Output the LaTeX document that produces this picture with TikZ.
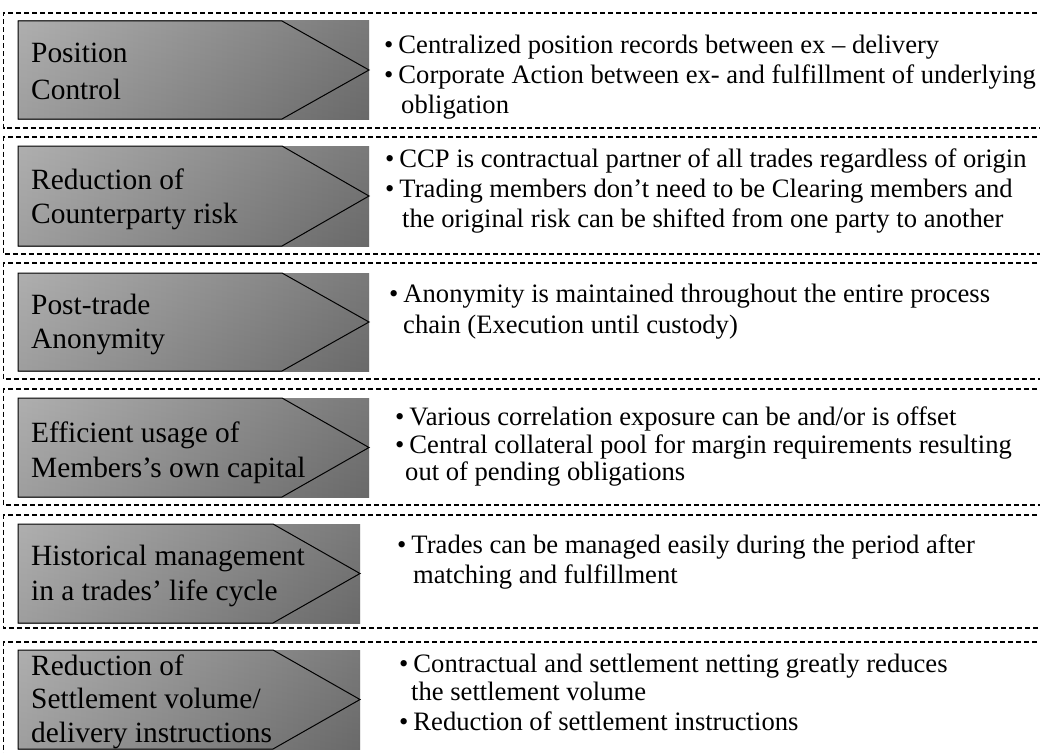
\documentclass[tikz,border=0pt]{standalone}
\usepackage{fontspec}
\setmainfont{Liberation Serif}
\definecolor{gl}{HTML}{BDBDBD}
\definecolor{gr}{HTML}{7E7E7E}
\newcommand\chevrow[5]{%
  \shade[left color=gl, right color=gr] (18,#2) rectangle (#5,#3);
  \shade[top color=black!60, middle color=white, bottom color=black, fill opacity=0.16] (18,#2) rectangle (#5,#3);
  \draw[chev] (18,#2) -- (#4,#2) -- (#5,{(#2+#3)/2}) coordinate (#1) -- (#4,#3) -- (18,#3) -- cycle;
}
\begin{document}
\begin{tikzpicture}[x=1pt,y=-1pt,
  frame/.style={draw=black, line width=1.2pt, dash pattern=on 5pt off 3pt},
  chev/.style={draw=black, line width=1pt, line join=miter},
  lbl/.style={anchor=base west, inner sep=0pt, font=\fontsize{29.4}{35}\selectfont},
  bt/.style={anchor=base west, inner sep=0pt, font=\fontsize{26.6}{31}\selectfont},
]
\useasboundingbox (0,0) rectangle (1040,752);
\fill[white] (0,0) rectangle (1040,752);
\clip (0,0) rectangle (1040,752);

% frames
\draw[frame] (1045,13) -- (3.5,13) -- (3.5,128) -- (1045,128);
\draw[frame] (1045,137) -- (3.5,137) -- (3.5,254) -- (1045,254);
\draw[frame] (1045,263) -- (3.5,263) -- (3.5,379) -- (1045,379);
\draw[frame] (1045,389) -- (3.5,389) -- (3.5,505) -- (1045,505);
\draw[frame] (1045,515) -- (3.5,515) -- (3.5,628) -- (1045,628);
\draw[frame] (1045,642) -- (3.5,642) -- (3.5,760);

% chevrons
\chevrow{t1}{21}{119}{282}{369}
\chevrow{t2}{146}{246}{282}{369}
\chevrow{t3}{273}{371}{282}{369}
\chevrow{t4}{398}{497}{282}{369}
\chevrow{t5}{524}{623}{273}{360}
\chevrow{t6}{650}{749}{273}{360}

% labels
\node[lbl] (l1a) at (31,63) {Position};
\node[lbl] (l1b) at (31,99) {Control};
\node[lbl] (l2a) at (31,189) {Reduction of};
\node[lbl] (l2b) at (31,223) {Counterparty risk};
\node[lbl] (l3a) at (31,314) {Post-trade};
\node[lbl] (l3b) at (31,348) {Anonymity};
\node[lbl] (l4a) at (31,442) {Efficient usage of};
\node[lbl] (l4b) at (31,477) {Members’s own capital};
\node[lbl] (l5a) at (31,565) {Historical management};
\node[lbl] (l5b) at (31,600) {in a trades’ life cycle};
\node[lbl] (l6a) at (31,675) {Reduction of};
\node[lbl] (l6b) at (31,708) {Settlement volume/};
\node[lbl] (l6c) at (31,742) {delivery instructions};

% bullet texts
\node[bt] (b1a) at (384,53) {•\kern5pt Centralized position records between ex – delivery};
\node[bt] (b1b) at (384,83) {•\kern5pt Corporate Action between ex- and fulfillment of underlying};
\node[bt] (b1c) at (401,113) {obligation};
\node[bt] (b2a) at (385,167) {•\kern5pt CCP is contractual partner of all trades regardless of origin};
\node[bt] (b2b) at (385,197) {•\kern5pt Trading members don’t need to be Clearing members and};
\node[bt] (b2c) at (402,227) {the original risk can be shifted from one party to another};
\node[bt] (b3a) at (389,302) {•\kern5pt Anonymity is maintained throughout the entire process};
\node[bt] (b3b) at (403,333) {chain (Execution until custody)};
\node[bt] (b4a) at (395,425) {•\kern5pt Various correlation exposure can be and/or is offset};
\node[bt] (b4b) at (395,453) {•\kern5pt Central collateral pool for margin requirements resulting};
\node[bt] (b4c) at (405,480) {out of pending obligations};
\node[bt] (b5a) at (397,553) {•\kern5pt Trades can be managed easily during the period after};
\node[bt] (b5b) at (413,583) {matching and fulfillment};
\node[bt] (b6a) at (399,672) {•\kern5pt Contractual and settlement netting greatly reduces};
\node[bt] (b6b) at (411,700) {the settlement volume};
\node[bt] (b6c) at (399,730) {•\kern5pt Reduction of settlement instructions};
\end{tikzpicture}
\end{document}
